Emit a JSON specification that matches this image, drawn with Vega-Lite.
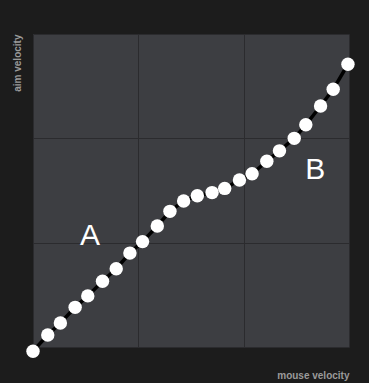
{
  "$schema": "https://vega.github.io/schema/vega-lite/v6.json",
  "width": 316,
  "height": 313,
  "autosize": {"type": "none"},
  "padding": {"left": 33, "top": 34, "right": 20, "bottom": 36},
  "background": "#1c1c1c",
  "config": {
    "view": {"fill": "#3d3e42", "stroke": null},
    "axis": {
      "grid": true,
      "gridColor": "#2b2b2e",
      "gridWidth": 1,
      "labels": false,
      "ticks": false,
      "domain": false,
      "titleFont": "Liberation Sans",
      "titleFontWeight": "bold",
      "titleFontSize": 10,
      "titleColor": "#9a9a9a",
      "titleAnchor": "end"
    }
  },
  "datasets": {
    "curve": [
      {"mv": 0.00, "av": -0.04},
      {"mv": 0.14, "av": 0.115},
      {"mv": 0.26, "av": 0.23},
      {"mv": 0.40, "av": 0.38},
      {"mv": 0.52, "av": 0.49},
      {"mv": 0.66, "av": 0.63},
      {"mv": 0.79, "av": 0.75},
      {"mv": 0.92, "av": 0.90},
      {"mv": 1.04, "av": 1.01},
      {"mv": 1.18, "av": 1.16},
      {"mv": 1.30, "av": 1.30},
      {"mv": 1.43, "av": 1.40},
      {"mv": 1.56, "av": 1.45},
      {"mv": 1.70, "av": 1.48},
      {"mv": 1.82, "av": 1.52},
      {"mv": 1.96, "av": 1.60},
      {"mv": 2.08, "av": 1.66},
      {"mv": 2.22, "av": 1.78},
      {"mv": 2.34, "av": 1.88},
      {"mv": 2.48, "av": 2.00},
      {"mv": 2.59, "av": 2.13},
      {"mv": 2.73, "av": 2.31},
      {"mv": 2.85, "av": 2.47},
      {"mv": 2.99, "av": 2.71}
    ],
    "labels": [
      {"mv": 0.54, "av": 1.06, "label": "A"},
      {"mv": 2.68, "av": 1.70, "label": "B"}
    ]
  },
  "layer": [
    {
      "data": {"name": "curve"},
      "mark": {"type": "line", "color": "#000000", "strokeWidth": 3.5},
      "encoding": {
        "x": {"field": "mv", "type": "quantitative", "title": "mouse velocity",
              "scale": {"domain": [0, 3], "nice": false, "zero": false},
              "axis": {"values": [0, 1, 2, 3], "titlePadding": 23}},
        "y": {"field": "av", "type": "quantitative", "title": "aim velocity",
              "scale": {"domain": [0, 3], "nice": false, "zero": false},
              "axis": {"values": [0, 1, 2, 3], "titlePadding": 11}}
      }
    },
    {
      "data": {"name": "curve"},
      "mark": {"type": "circle", "color": "#ffffff", "opacity": 1, "size": 180},
      "encoding": {
        "x": {"field": "mv", "type": "quantitative"},
        "y": {"field": "av", "type": "quantitative"}
      }
    },
    {
      "data": {"name": "labels"},
      "mark": {"type": "text", "color": "#ffffff", "fontSize": 30, "font": "Liberation Sans", "baseline": "middle", "align": "center"},
      "encoding": {
        "x": {"field": "mv", "type": "quantitative"},
        "y": {"field": "av", "type": "quantitative"},
        "text": {"field": "label"}
      }
    }
  ]
}
